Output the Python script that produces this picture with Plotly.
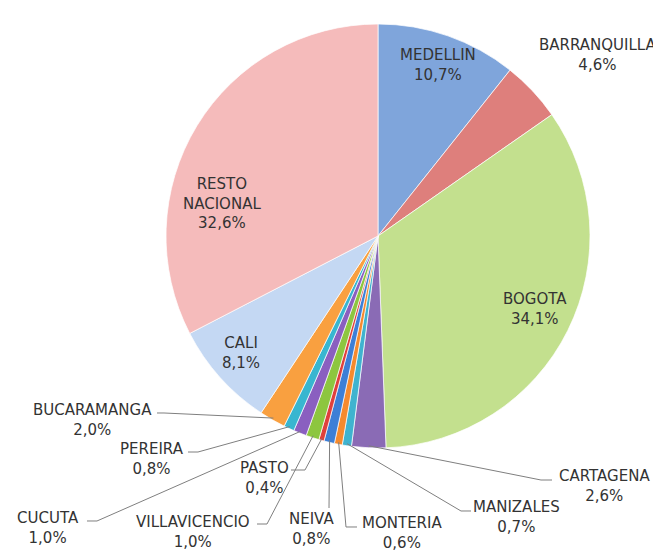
import math
import plotly.graph_objects as go

# participacion por ciudad (%), en orden horario desde las 12
ciudades = ["MEDELLIN", "BARRANQUILLA", "BOGOTA", "CARTAGENA", "MANIZALES", "MONTERIA",
            "NEIVA", "PASTO", "VILLAVICENCIO", "CUCUTA", "PEREIRA", "BUCARAMANGA",
            "CALI", "RESTO NACIONAL"]
participacion = [10.7, 4.6, 34.1, 2.6, 0.7, 0.6, 0.8, 0.4, 1.0, 1.0, 0.8, 2.0, 8.1, 32.6]
colores = ["#7FA5DB", "#DE7F7C", "#C3E08E", "#8A6BB5", "#3FB3CF", "#F58A2E", "#3D7FD6",
           "#E0403C", "#8DC63F", "#8A5FC0", "#38B6D0", "#F9A040", "#C4D8F3", "#F5BBBB"]

# la pagina deja 8px de margen alrededor del grafico
OFF = 8
W, H = 661 - OFF, 550 - OFF
CX, CY, R = 378, 236, 212


def paper(x, y):
    # pixeles de la ventana -> coordenadas paper
    return (x - OFF) / W, 1 - (y - OFF) / H


def borde(i, r=R):
    # punto medio del borde exterior de la porcion i (pixeles)
    total = sum(participacion)
    acum = sum(participacion[:i]) + participacion[i] / 2
    ang = 2 * math.pi * acum / total
    return CX + r * math.sin(ang), CY - r * math.cos(ang)


x0, y1 = paper(CX - R, CY - R)
x1, y0 = paper(CX + R, CY + R)
fig = go.Figure(go.Pie(
    labels=ciudades, values=participacion, sort=False,
    direction="clockwise", rotation=0,
    marker=dict(colors=colores, line=dict(color="rgba(255,255,255,0.7)", width=1)),
    textinfo="none", hoverinfo="label+percent", showlegend=False,
    domain=dict(x=[x0, x1], y=[y0, y1]),
))

# posicion de etiquetas (centro del texto) y quiebre de la guia
etiquetas = {
    "MEDELLIN": ((438, 65), None),
    "BARRANQUILLA": ((598, 55), None),
    "BOGOTA": ((535, 309), None),
    "CALI": ((241, 353), None),
    "RESTO NACIONAL": ((222, 203), None),
    "BUCARAMANGA": ((92, 420), [(157, 413), (164, 413)]),
    "PEREIRA": ((152, 459), [(188, 452), (198, 452)]),
    "PASTO": ((264, 478), [(291, 470), (305, 470)]),
    "CUCUTA": ((48, 528), [(87, 521), (97, 521)]),
    "VILLAVICENCIO": ((193, 532), [(257, 524), (267, 524)]),
    "NEIVA": ((311, 529), [(329, 508)]),
    "MONTERIA": ((402, 533), [(357, 527), (346, 527)]),
    "MANIZALES": ((516, 517), [(471, 511), (461, 511)]),
    "CARTAGENA": ((604, 486), [(552, 480), (541, 480)]),
}

fuente = dict(family="DejaVu Sans", size=15, color="#333333")
for i, nombre in enumerate(ciudades):
    (tx, ty), guia = etiquetas[nombre]
    texto = nombre.replace(" ", "<br>") + "<br>" + f"{participacion[i]:.1f}".replace(".", ",") + "%"
    x, y = paper(tx, ty)
    fig.add_annotation(x=x, y=y, xref="paper", yref="paper", text=texto, showarrow=False,
                       xanchor="center", yanchor="middle", align="center", font=fuente)
    if guia:
        pts = guia + [borde(i, R - 2)]
        path = "M " + " L ".join(f"{paper(px, py)[0]:.5f},{paper(px, py)[1]:.5f}" for px, py in pts)
        fig.add_shape(type="path", path=path, xref="paper", yref="paper",
                      line=dict(color="#7F7F7F", width=1))

fig.update_layout(width=W, height=H, margin=dict(l=0, r=0, t=0, b=0),
                  paper_bgcolor="white", plot_bgcolor="white")

fig.write_html("out.html")
